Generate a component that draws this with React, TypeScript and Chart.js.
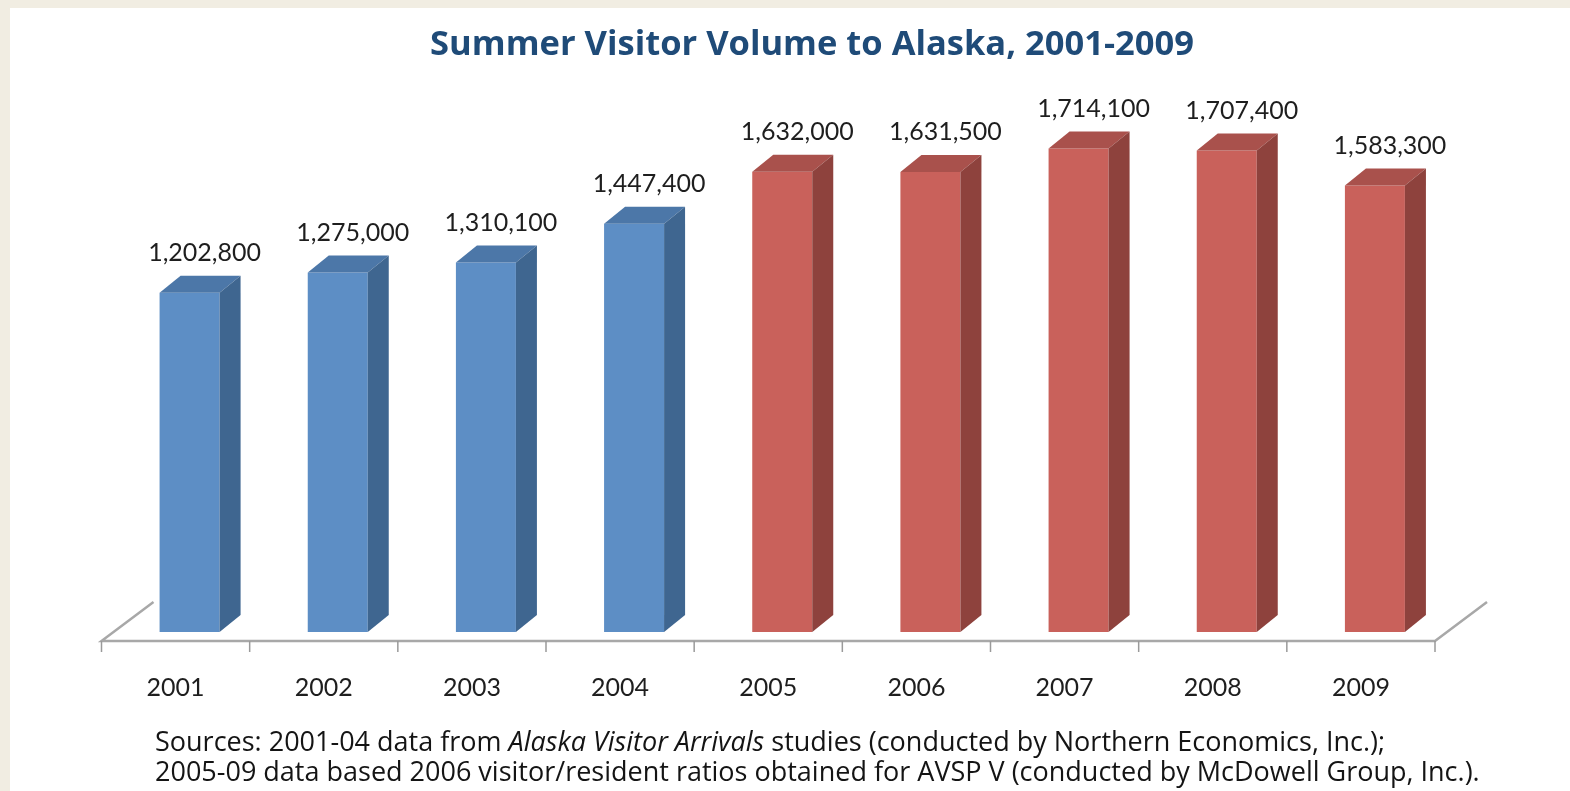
import React, { useEffect, useRef } from "react";
import { Chart, registerables } from "chart.js";

Chart.register(...registerables);

const years = ["2001", "2002", "2003", "2004", "2005", "2006", "2007", "2008", "2009"];
const visitors = [1202800, 1275000, 1310100, 1447400, 1632000, 1631500, 1714100, 1707400, 1583300];
const isAVSP = [false, false, false, false, true, true, true, true, true];

const FRONT = { blue: "#5D8EC5", red: "#C9615B" };
const TOP = { blue: "#4C77A8", red: "#A9514C" };
const SIDE = { blue: "#3F6690", red: "#8E423D" };

const SHIFT_X = 14;
const DX = 21;
const DY = 17;

const bar3d = {
  id: "bar3d",
  beforeDatasetsDraw(chart: any) {
    const { ctx, chartArea } = chart;
    const floorY = chartArea.bottom + 9;
    ctx.save();
    ctx.strokeStyle = "#A8A8A8";
    ctx.lineWidth = 2.5;
    ctx.beginPath();
    ctx.moveTo(chartArea.left + 52, floorY - 39);
    ctx.lineTo(chartArea.left, floorY);
    ctx.lineTo(chartArea.right, floorY);
    ctx.lineTo(chartArea.right + 52, floorY - 39);
    ctx.stroke();
    const xs = chart.scales.x;
    ctx.lineWidth = 1.5;
    ctx.strokeStyle = "#9A9A9A";
    for (let i = 0; i <= years.length; i++) {
      const x = i < years.length ? xs.getPixelForValue(i) - xs.width / years.length / 2 : chartArea.right;
      ctx.beginPath();
      ctx.moveTo(x, floorY);
      ctx.lineTo(x, floorY + 11);
      ctx.stroke();
    }
    ctx.restore();
  },
  beforeDatasetDraw(chart: any) {
    chart.ctx.save();
    chart.ctx.translate(SHIFT_X, 0);
  },
  afterDatasetDraw(chart: any) {
    const { ctx } = chart;
    const meta = chart.getDatasetMeta(0);
    meta.data.forEach((el: any, i: number) => {
      const { x, y, base, width } = el.getProps(["x", "y", "base", "width"], true);
      const xl = x - width / 2;
      const xr = x + width / 2;
      const key = isAVSP[i] ? "red" : "blue";
      ctx.fillStyle = TOP[key];
      ctx.beginPath();
      ctx.moveTo(xl, y);
      ctx.lineTo(xl + DX, y - DY);
      ctx.lineTo(xr + DX, y - DY);
      ctx.lineTo(xr, y);
      ctx.closePath();
      ctx.fill();
      ctx.fillStyle = SIDE[key];
      ctx.beginPath();
      ctx.moveTo(xr, y);
      ctx.lineTo(xr + DX, y - DY);
      ctx.lineTo(xr + DX, base - DY);
      ctx.lineTo(xr, base);
      ctx.closePath();
      ctx.fill();
    });
    ctx.restore();
  },
  afterDatasetsDraw(chart: any) {
    const { ctx } = chart;
    const meta = chart.getDatasetMeta(0);
    ctx.save();
    ctx.fillStyle = "#1E1E1E";
    ctx.font = "25px Lato";
    ctx.textAlign = "center";
    ctx.textBaseline = "middle";
    meta.data.forEach((el: any, i: number) => {
      const { x, y } = el.getProps(["x", "y"], true);
      ctx.fillText(visitors[i].toLocaleString("en-US"), x + SHIFT_X + 15, y - 40);
    });
    ctx.restore();
  },
};

export default function App() {
  const ref = useRef<HTMLCanvasElement>(null);
  useEffect(() => {
    document.body.style.margin = "0";
    const chart = new Chart(ref.current!, {
      type: "bar",
      data: {
        labels: years,
        datasets: [
          {
            data: visitors,
            backgroundColor: isAVSP.map((r) => (r ? FRONT.red : FRONT.blue)),
            borderWidth: 0,
            categoryPercentage: 1,
            barPercentage: 0.405,
          },
        ],
      },
      options: {
        responsive: false,
        animation: false,
        events: [],
        layout: { padding: { left: 101.5, right: 135, top: 124.4, bottom: 88.6 } },
        plugins: { legend: { display: false }, tooltip: { enabled: false }, title: { display: false } },
        scales: {
          x: {
            grid: { display: false, drawTicks: false },
            border: { display: false },
            ticks: { color: "#1E1E1E", font: { family: "Lato", size: 25 }, padding: 41 },
            afterFit: (scale: any) => {
              scale.height = 70.4;
            },
          },
          y: { display: false, min: 0, max: 1800000 },
        },
      },
      plugins: [bar3d],
    });
    return () => chart.destroy();
  }, []);

  return (
    <div style={{ position: "relative", width: 1570, height: 791, background: "#F1EDE2", overflow: "hidden" }}>
      <div style={{ position: "absolute", left: 10, top: 8, right: 0, bottom: 0, background: "#FFFFFF" }} />
      <canvas ref={ref} width={1570} height={791} style={{ position: "absolute", left: 0, top: 0 }} />
      <div
        style={{
          position: "absolute",
          left: 812,
          top: 20,
          transform: "translateX(-50%)",
          whiteSpace: "nowrap",
          fontFamily: "'Open Sans'",
          fontWeight: 700,
          fontSize: 34.5,
          lineHeight: "44px",
          color: "#1F4B78",
        }}
      >
        Summer Visitor Volume to Alaska, 2001-2009
      </div>
      <div
        style={{
          position: "absolute",
          left: 155,
          top: 726,
          whiteSpace: "nowrap",
          fontFamily: "'Open Sans'",
          fontSize: 27,
          lineHeight: "30px",
          color: "#141414",
        }}
      >
        <div>
          Sources: 2001-04 data from <i>Alaska Visitor Arrivals</i> studies (conducted by Northern Economics, Inc.);
        </div>
        <div>2005-09 data based 2006 visitor/resident ratios obtained for AVSP V (conducted by McDowell Group, Inc.).</div>
      </div>
    </div>
  );
}
